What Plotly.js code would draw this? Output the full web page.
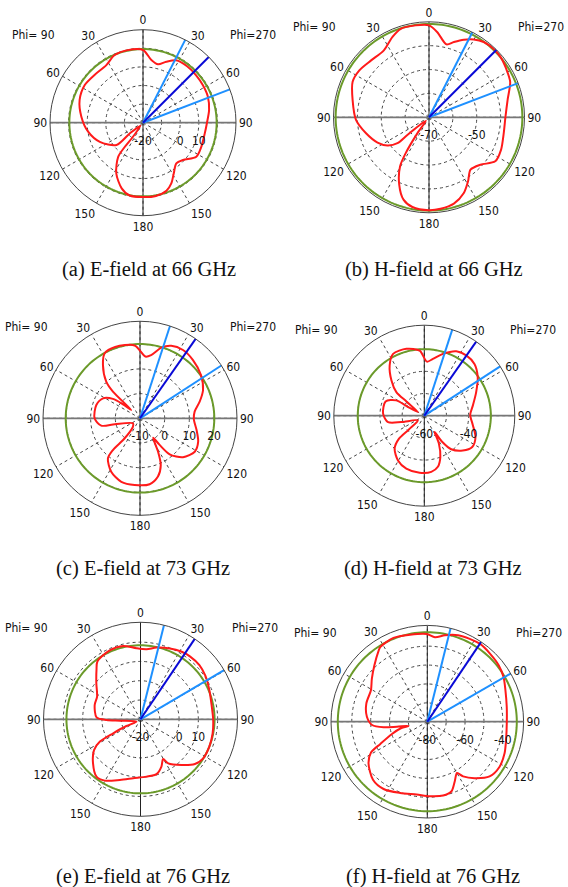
<!DOCTYPE html>
<html><head><meta charset="utf-8">
<script src="https://cdn.plot.ly/plotly-3.0.1.min.js"></script>
<style>html,body{margin:0;padding:0;background:#fff}#chart{width:568px;height:887px}</style>
</head><body><div id="chart"></div>
<script>
// ---------- data ----------
const angleTicks = [0,30,60,90,120,150,180,210,240,270,300,330];
const angleTickText = ['0','30','60','90','120','150','180','150','120','90','60','30'];
const captions = ['(a) E-field at 66 GHz','(b) H-field at 66 GHz','(c) E-field at 73 GHz','(d) H-field at 73 GHz','(e) E-field at 76 GHz','(f) H-field at 76 GHz'];
const phiLeft = 'Phi= 90';
const phiRight = 'Phi=270';

const rangeMin = [-20,-70,-10,-60,-20,-80];
const rangeMax = [30,-30,29.3,-19.2,30.3,-29];
const gridVals = [[-20,-10,0,10,20],[-70,-60,-50,-40],[-10,0,10,20],[-60,-50,-40,-30],[-20,-10,0,10,20],[-80,-70,-60,-50,-40]];
const gridText = [['-20','','0','10',''],['-70','','-50',''],['-10','0','10','20'],['-60','','-40',''],['-20','','0','10',''],['-80','','-60','','-40']];
const greenLevel = [19.6,-30.9,20.1,-30.0,18.4,-32.6];
const beamMain = [45,45,35,35,34,34];
const beamLow  = [27,27,18,18,14,14];
const beamHigh = [69,69,57,57,59.5,60];

const thetaA = [0,7.6,14.4,20.9,28,38,48,58,68,79,90,99.8,112,122.5,133,140.7,148.8,155,161,170,180,190.4,198,207.8,216,217,215.5,222,231,230,246,260.7,275.6,289.7,302.9,314.6,327.5,337,348,360];
const rA     = [19.1,14.0,12.4,15.1,18.0,18.5,18.3,18.0,17.6,16.2,14.4,13.7,13.9,14.0,9.4,8.3,11.9,16.0,18.7,20,20,19.8,17.1,10.8,2.7,-3.8,-10.7,-18,-10.8,-1.4,5.4,9.9,13.3,16.2,17.3,16.6,16.7,19.4,19.9,19.1];

const thetaB = [0,5.6,13.5,18.3,24.2,29.9,36,43.3,49.8,57.8,66.4,77.6,90,102,114.3,123.6,132.7,141.6,148.6,155.3,163.9,172.8,180,190.5,197.2,203.9,210.5,213,216,222,230.8,230.6,235.8,243.9,255.8,268,282.7,295,304,314.5,326,335.6,342.3,351.8,360];
const rB     = [-31.5,-34.2,-38.6,-36.8,-34.4,-32.4,-31.0,-30.6,-30.8,-31.8,-32.9,-36.3,-38,-38,-36.9,-36.7,-40.7,-42,-38.6,-35.1,-32.4,-31.4,-31.1,-31.8,-33.9,-39.2,-46.1,-52,-61.8,-68,-58.3,-52.9,-49,-46,-42.8,-39.4,-37.2,-34.7,-34.8,-36,-36.2,-33,-31.1,-31.1,-31.5];

const thetaC = [5,10,16.8,23.3,32.2,42.3,54.5,65.8,74.4,83,90.7,101.7,111.9,121.4,132.2,140.5,143.6,146,151.6,156,162.9,171.7,184.6,196.4,208.3,218.7,220.5,217.5,220,234.5,256.7,259.3,270,287,298.4,305.6,309.5,314,314.6,317.4,325.2,331.5,340.8,355.8,365];
const rC     = [15.1,16,19.9,22.0,22.7,21.9,20.3,18.0,15.1,12.3,11.8,13.4,15.4,16.0,13.5,8.9,3.4,-0.5,5.4,10.7,14.7,17.0,17.1,16.8,14.6,10.8,6.9,0.2,-5.5,-6.5,0.5,6.0,8.4,8.5,7.0,3.5,-1.1,-5.1,5.4,10.2,16.3,20.0,20.6,19.6,15.1];

const thetaD = [2.8,8.6,16.8,26.4,34.8,44.1,54.2,65.5,78,88.8,100.5,112.6,123.1,132.2,141.3,145.6,147.7,152.4,158.8,165.1,172.9,184.7,198.8,210.5,222,227.8,228.3,233.6,254.6,260,272.8,290.3,298.7,298,300,308.5,310.2,317,325.4,333.2,345,355.9,362.8];
const rD     = [-35.6,-34.1,-30.9,-27.6,-26.9,-27.5,-30.3,-34.3,-37.6,-39.3,-37.8,-35,-34.2,-36.6,-40.6,-45.6,-51.3,-45.8,-40,-36.2,-34.5,-34.2,-34.8,-36.6,-40,-44.6,-50.7,-56.4,-49.2,-43.4,-41.4,-41.4,-45.6,-51.7,-56.7,-49.7,-43.5,-38.3,-32.5,-28.8,-28.8,-30.6,-35.6];

const thetaE = [4.9,12.6,22.5,31,38.4,47.4,56.1,66.9,78.6,90.5,101,111.7,121.9,129.4,138.1,147.8,150.3,156.1,163.7,174,187.1,198.8,210.2,217.5,227.1,236.5,241.2,242.9,244.5,240,266.3,268.9,272.6,287.4,297.6,309.3,318.3,323.3,335.9,346.7,356.8,364.9];
const rE     = [16.5,18.1,19.8,21.0,21.5,21.5,20.5,18.8,17.6,17.7,18.1,18.4,18.3,16.5,11.8,7.0,3.7,6.8,9.6,9.9,10.8,13.2,16.8,17.5,13.6,8.9,4.0,-4.1,-11.9,-17.6,-9.3,-2.4,2.8,4.9,5.4,9.6,14.3,17.4,19.1,19.1,16.9,16.5];

const thetaF = [5.2,11.5,19.6,27.1,34.2,42.8,51.8,59.6,68.1,79.4,91.2,103,112.2,122.1,131.3,140.1,146.8,149.9,155.2,160.8,167.9,178,188.3,200.9,213,223.1,234.8,241.3,244.7,250.9,256,257.2,260.7,262.7,266.6,274.7,286.6,299.2,307.9,316.7,325.6,327.7,338,348.8,359.6,365.2];
const rF     = [-35.1,-33.3,-31.4,-30.7,-30.2,-31,-31.8,-33.2,-35.4,-37.2,-37.9,-37.2,-35.8,-34.9,-36.1,-41,-45.4,-48.6,-45.3,-41,-40,-40.5,-41,-39.6,-37.5,-37.9,-41.9,-46,-52.5,-60.2,-65.6,-69.8,-63.7,-56.7,-50.7,-47.9,-46.3,-45.8,-42.8,-39.1,-34.4,-33.3,-32.1,-33,-33.5,-35.1];

// ---------- build ----------
const patterns = [[thetaA,rA],[thetaB,rB],[thetaC,rC],[thetaD,rD],[thetaE,rE],[thetaF,rF]];
const W = 568, H = 887;
const FONT = 'DejaVu Sans Condensed, DejaVu Sans, sans-serif';
const SERIF = 'Liberation Serif, Times New Roman, serif';
// plot centres / radii in pixels, caption & label positions
const geo = [
  {cx:143, cy:122.7, R:93,   cap:[149,270], pl:[33,35],  pr:[253,35]},
  {cx:429, cy:117.3, R:95.5, cap:[434,270], pl:[314,27], pr:[541,27]},
  {cx:140, cy:418.3, R:97,   cap:[143,568], pl:[26,327], pr:[253,327]},
  {cx:424.3, cy:415.7, R:90.5, cap:[433,568], pl:[316,330], pr:[533,330]},
  {cx:140.5, cy:719.3, R:97, cap:[143,876], pl:[26,628], pr:[255,628]},
  {cx:427.3, cy:721.7, R:96.3, cap:[433,876], pl:[315,633], pr:[539,633]}
];
const circleTheta = [];
for (let t = 0; t <= 360; t += 2) circleTheta.push(t);

const traces = [];
const layout = {
  width: W, height: H, margin:{l:0,r:0,t:0,b:0},
  paper_bgcolor:'#fff', showlegend:false, annotations:[]
};

geo.forEach((g, i) => {
  const key = i === 0 ? 'polar' : 'polar' + (i + 1);
  const lo = rangeMin[i], hi = rangeMax[i];
  layout[key] = {
    domain: {x:[(g.cx - g.R)/W, (g.cx + g.R)/W], y:[1 - (g.cy + g.R)/H, 1 - (g.cy - g.R)/H]},
    bgcolor:'#fff',
    angularaxis: {
      rotation:90, direction:'clockwise', tickmode:'array',
      tickvals: angleTicks, ticktext: angleTickText,
      showline:true, linecolor:'#444', linewidth:1,
      showgrid:true, gridcolor:'#444', gridwidth:1, griddash:'3px,3px',
      ticks:'', tickfont:{family:FONT, size:12, color:'#111'}
    },
    radialaxis: {
      range:[lo, hi], tickmode:'array', tickvals: gridVals[i], ticktext: gridText[i],
      angle:0, side:'clockwise', showline:false,
      showgrid:true, gridcolor:'#444', gridwidth:1, griddash:'3px,3px',
      ticks:'outside', ticklen:7, tickcolor:'rgba(0,0,0,0)',
      tickangle:0, tickfont:{family:FONT, size:12, color:'#111'}
    }
  };
  // solid cross-hair
  traces.push({type:'scatterpolar', subplot:key, mode:'lines', hoverinfo:'skip',
    theta:[0,0,180], r:[hi,lo,hi], line:{color:'#222', width:1}});
  traces.push({type:'scatterpolar', subplot:key, mode:'lines', hoverinfo:'skip',
    theta:[90,90,270], r:[hi,lo,hi], line:{color:'#777', width:1.8}});
  // green reference circle
  traces.push({type:'scatterpolar', subplot:key, mode:'lines', hoverinfo:'skip',
    theta: circleTheta, r: circleTheta.map(() => greenLevel[i]),
    line:{color:'#6b9a2a', width:2}});
  // red pattern
  traces.push({type:'scatterpolar', subplot:key, mode:'lines', hoverinfo:'skip',
    theta: patterns[i][0], r: patterns[i][1],
    line:{color:'#ff1a1a', width:2, shape:'spline', smoothing:0.8}});
  // beam lines
  [beamLow[i], beamHigh[i]].forEach(a => traces.push({type:'scatterpolar', subplot:key, mode:'lines', hoverinfo:'skip',
    theta:[a, a], r:[lo, hi], line:{color:'#1e90ff', width:2}, cliponaxis:false}));
  traces.push({type:'scatterpolar', subplot:key, mode:'lines', hoverinfo:'skip',
    theta:[beamMain[i], beamMain[i]], r:[lo, hi], line:{color:'#0a0ad6', width:2}, cliponaxis:false});

  layout.annotations.push({text:captions[i], xref:'paper', yref:'paper', x:g.cap[0]/W, y:1 - g.cap[1]/H,
    xanchor:'center', yanchor:'middle', showarrow:false, font:{family:SERIF, size:20.5, color:'#111'}});
  layout.annotations.push({text:phiLeft, xref:'paper', yref:'paper', x:g.pl[0]/W, y:1 - g.pl[1]/H,
    xanchor:'center', yanchor:'middle', showarrow:false, font:{family:FONT, size:12, color:'#111'}});
  layout.annotations.push({text:phiRight, xref:'paper', yref:'paper', x:g.pr[0]/W, y:1 - g.pr[1]/H,
    xanchor:'center', yanchor:'middle', showarrow:false, font:{family:FONT, size:12, color:'#111'}});
});

Plotly.newPlot('chart', traces, layout, {staticPlot:true, displayModeBar:false});
</script>
</body></html>
